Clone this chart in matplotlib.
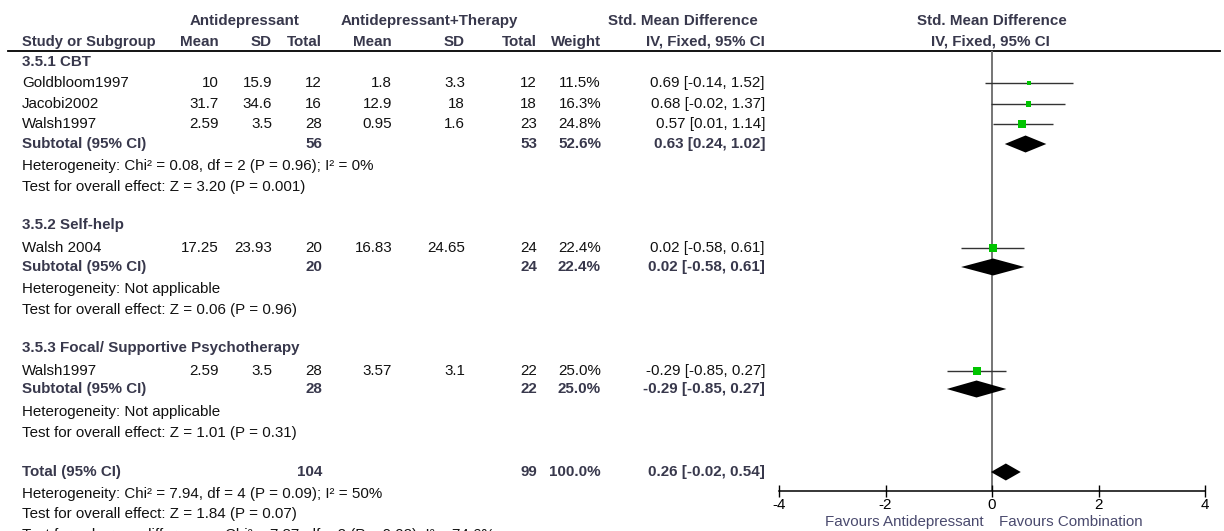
import matplotlib.pyplot as plt

plt.rcParams['font.family'] = ['Liberation Sans', 'DejaVu Sans']
plt.rcParams['axes.unicode_minus'] = False

# study-level data
groups = ["3.5.1 CBT", "3.5.2 Self-help", "3.5.3 Focal/ Supportive Psychotherapy"]
study_group = [0, 0, 0, 1, 2]
studies = ["Goldbloom1997", "Jacobi2002", "Walsh1997", "Walsh 2004", "Walsh1997"]
mean1 = [10, 31.7, 2.59, 17.25, 2.59]
sd1 = [15.9, 34.6, 3.5, 23.93, 3.5]
n1 = [12, 16, 28, 20, 28]
mean2 = [1.8, 12.9, 0.95, 16.83, 3.57]
sd2 = [3.3, 18, 1.6, 24.65, 3.1]
n2 = [12, 18, 23, 24, 22]
weight = [11.5, 16.3, 24.8, 22.4, 25.0]
smd = [0.69, 0.68, 0.57, 0.02, -0.29]
ci_lo = [-0.14, -0.02, 0.01, -0.58, -0.85]
ci_hi = [1.52, 1.37, 1.14, 0.61, 0.27]

# subgroup totals
sub_n1 = [56, 20, 28]
sub_n2 = [53, 24, 22]
sub_weight = [52.6, 22.4, 25.0]
sub_smd = [0.63, 0.02, -0.29]
sub_lo = [0.24, -0.58, -0.85]
sub_hi = [1.02, 0.61, 0.27]
sub_het = ["Heterogeneity: Chi² = 0.08, df = 2 (P = 0.96); I² = 0%",
           "Heterogeneity: Not applicable",
           "Heterogeneity: Not applicable"]
sub_test = ["Test for overall effect: Z = 3.20 (P = 0.001)",
            "Test for overall effect: Z = 0.06 (P = 0.96)",
            "Test for overall effect: Z = 1.01 (P = 0.31)"]

# overall
tot_n1, tot_n2, tot_weight = 104, 99, 100.0
tot_smd, tot_lo, tot_hi = 0.26, -0.02, 0.54
tot_lines = ["Heterogeneity: Chi² = 7.94, df = 4 (P = 0.09); I² = 50%",
             "Test for overall effect: Z = 1.84 (P = 0.07)",
             "Test for subgroup differences: Chi² = 7.87, df = 2 (P = 0.02), I² = 74.6%"]

ticks = [-4, -2, 0, 2, 4]
favours = ["Favours Antidepressant", "Favours Combination"]

# layout (pixel rows / columns)
group_y = [62, 225, 348]
study_y = [83, 104, 124, 248, 371]
sub_y = [144, 267, 389]
het_y = [166, 289, 412]
test_y = [187, 310, 433]
tot_y = 472
tot_line_y = [494, 514, 535]
col_x = dict(name=22, m1=219, s1=272, n1=322, m2=392, s2=465, n2=537, w=601, ci=765)

HEAD = '#38384c'
TXT = '#111111'
FS = 10.9
GREEN = '#00c400'

fig = plt.figure(figsize=(12.24, 5.31), dpi=100)
ax = fig.add_axes([0, 0, 1, 1])
ax.set_xlim(0, 1224)
ax.set_ylim(531, 0)
ax.axis('off')


def t(x, y, s, ha='left', bold=False, color=None, fs=FS):
    ax.text(x, y, s, ha=ha, va='center', fontsize=fs,
            fontweight='bold' if bold else 'normal',
            color=color or (HEAD if bold else TXT))


# headers
t(245, 21, "Antidepressant", ha='center', bold=True)
t(429, 21, "Antidepressant+Therapy", ha='center', bold=True)
t(683, 21, "Std. Mean Difference", ha='center', bold=True)
t(992, 21, "Std. Mean Difference", ha='center', bold=True)
t(col_x['name'], 42, "Study or Subgroup", bold=True, fs=10.6)
for key, lab in [('m1', 'Mean'), ('s1', 'SD'), ('n1', 'Total'), ('m2', 'Mean'),
                 ('s2', 'SD'), ('n2', 'Total'), ('w', 'Weight'), ('ci', 'IV, Fixed, 95% CI')]:
    t(col_x[key], 42, lab, ha='right', bold=True)
t(990, 42, "IV, Fixed, 95% CI", ha='center', bold=True)
ax.plot([8, 1220], [51, 51], color='black', lw=1.3)

# study rows
for i, name in enumerate(studies):
    y = study_y[i]
    t(col_x['name'], y, name)
    t(col_x['m1'], y, f"{mean1[i]:g}", ha='right')
    t(col_x['s1'], y, f"{sd1[i]:g}", ha='right')
    t(col_x['n1'], y, f"{n1[i]}", ha='right')
    t(col_x['m2'], y, f"{mean2[i]:g}", ha='right')
    t(col_x['s2'], y, f"{sd2[i]:g}", ha='right')
    t(col_x['n2'], y, f"{n2[i]}", ha='right')
    t(col_x['w'], y, f"{weight[i]:.1f}%", ha='right')
    t(col_x['ci'], y, f"{smd[i]:.2f} [{ci_lo[i]:.2f}, {ci_hi[i]:.2f}]", ha='right')

# subgroups
for g, gname in enumerate(groups):
    t(col_x['name'], group_y[g], gname, bold=True)
    y = sub_y[g]
    t(col_x['name'], y, "Subtotal (95% CI)", bold=True)
    t(col_x['n1'], y, f"{sub_n1[g]}", ha='right', bold=True)
    t(col_x['n2'], y, f"{sub_n2[g]}", ha='right', bold=True)
    t(col_x['w'], y, f"{sub_weight[g]:.1f}%", ha='right', bold=True)
    t(col_x['ci'], y, f"{sub_smd[g]:.2f} [{sub_lo[g]:.2f}, {sub_hi[g]:.2f}]", ha='right', bold=True)
    t(col_x['name'], het_y[g], sub_het[g])
    t(col_x['name'], test_y[g], sub_test[g])

# total
t(col_x['name'], tot_y, "Total (95% CI)", bold=True)
t(col_x['n1'], tot_y, f"{tot_n1}", ha='right', bold=True)
t(col_x['n2'], tot_y, f"{tot_n2}", ha='right', bold=True)
t(col_x['w'], tot_y, f"{tot_weight:.1f}%", ha='right', bold=True)
t(col_x['ci'], tot_y, f"{tot_smd:.2f} [{tot_lo:.2f}, {tot_hi:.2f}]", ha='right', bold=True)
for s, y in zip(tot_lines, tot_line_y):
    t(col_x['name'], y, s)

t(984, 522, favours[0], ha='right', color='#4a4a6e')
t(999, 522, favours[1], ha='left', color='#4a4a6e')

# forest plot
fx = fig.add_axes([779 / 1224, 0, 426 / 1224, 1])
fx.set_xlim(-4, 4)
fx.set_ylim(531, 0)
fx.patch.set_alpha(0)
for side in ['top', 'left', 'right']:
    fx.spines[side].set_visible(False)
fx.spines['bottom'].set_position(('data', 491))
fx.spines['bottom'].set_linewidth(1.1)
fx.set_yticks([])
fx.set_xticks(ticks)
fx.set_xticklabels([str(v) for v in ticks])
fx.tick_params(axis='x', direction='inout', length=8, width=1, pad=1,
               labelsize=FS, colors='black')

fx.vlines(0, 51, 491, color='#757575', lw=1.4, zorder=1)
fx.hlines(study_y, ci_lo, ci_hi, color='#333333', lw=1.0, zorder=2)
sizes = [(w / 25.0 * 8 * 0.72) ** 2 for w in weight]
fx.scatter(smd, study_y, s=sizes, marker='s', color=GREEN, linewidths=0, zorder=3)

h = 8.5
for g in range(len(groups)):
    y = sub_y[g]
    fx.fill([sub_lo[g], sub_smd[g], sub_hi[g], sub_smd[g]], [y, y - h, y, y + h],
            color='black', lw=0, zorder=4)
fx.fill([tot_lo, tot_smd, tot_hi, tot_smd], [tot_y, tot_y - h, tot_y, tot_y + h],
        color='black', lw=0, zorder=4)

fig.savefig('out.png', dpi=100)
